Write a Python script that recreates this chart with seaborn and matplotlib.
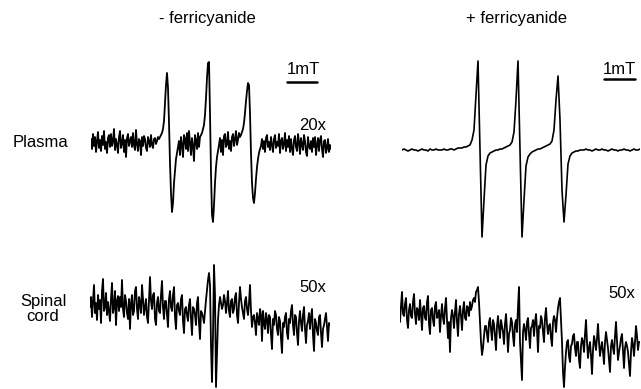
import numpy as np
import matplotlib as mpl
import matplotlib.pyplot as plt
import seaborn as sns

sns.set_style('white')
plt.rcParams['font.family'] = ['Liberation Sans', 'DejaVu Sans']
plt.rcParams['text.color'] = 'black'

# EPR traces, signal in arbitrary units
# noisy traces: 1 px ~ 1/30 mT per point; clean trace: 2 px per point
plasma_minus = [
    4, -6, 9, -3, 6, -9, 2, 11, -5, 3, -8, 7, -2, 12, -6, 1, -10, 5, 8, -4,
    9, -3, 2, 14, -7, 4, -2, -10, 6, 12, -5, 0, 8, -9, 3, -14, 5, 9, -3, 2,
    6, -4, 10, -2, -7, 13, -1, -8, 4, 2, -12, 6, -3, 7, 4, -5, -8, 6, 2, -4,
    8, -2, -5, 4, 5, -1, 2, 6, 4, 6, 8, 10, 14, 22, 40, 58, 70, 55, 20, -20,
    -50, -69, -60, -40, -28, -16, -10, -4, 2, -12, 6, -2, -14, 8, 4, -6, 10, -8, 12, 0,
    -12, 5, -3, -18, 8, 2, -6, 10, -4, 6, 8, 10, 14, 18, 28, 45, 65, 80, 81, 30,
    -30, -72, -79, -62, -40, -24, -14, -8, -2, 5, -9, 3, -12, 7, 9, -4, -1, 11, -6, 2,
    -8, 6, 9, -3, 4, 12, -2, 3, 10, 6, 8, 11, 14, 20, 30, 42, 52, 60, 58, 30,
    -10, -40, -55, -60, -50, -36, -24, -16, -10, -6, -3, 4, -6, 2, -9, 5, 8, -4, 1, -7,
    6, -2, -9, 4, 8, -5, 1, -3, 9, -10, 2, 5, -6, -1, 10, -8, 3, -4, 7, -9,
    4, -6, -12, 3, 7, -4, -8, 9, 1, -11, 5, -2, -7, 8, 2, -9, -13, 6, -3, -6,
    2, -9, 5, -4, 6, -12, -2, 5, -8, 3, 7, -6, -14, 2, 3, -10, -5, 4, -9, -2,
    -6,
]
plasma_plus = [
    0, 1, 0, -1, 0, 1, 0, 0, -1, 0,
    1, 0, 0, -1, 1, 0, 0, 1, 0, 0,
    0, 1, 0, 0, 1, 1, 0, 1, 2, 2,
    2, 3, 3, 4, 5, 10, 20, 55, 89, 0,
    -87, -50, -15, -6, -3, -2, -1, 0, 0, 1,
    1, 2, 3, 4, 5, 8, 18, 50, 89, 0,
    -87, -50, -16, -7, -4, -2, -1, 0, 1, 1,
    2, 3, 4, 5, 6, 9, 20, 50, 74, 30,
    -40, -72, -45, -14, -6, -3, -2, -1, -1, 0,
    0, 0, 1, 0, 0, -1, 0, 1, 0, 0,
    1, 0, 0, -1, 0, 1, 0, 0, -1, 0,
    0, 1, 0, 0, -1, 0, 1, 0, 0, 1,
]
spinal_minus = [
    -2, 8, -12, 4, 20, -8, 2, -15, 10, -4, 5, -18, 14, 26, -6, -2, 12, -10, 3, -6,
    -16, 6, 22, -8, -2, 14, -20, 4, 9, -6, 8, -2, 25, -4, -12, 10, 4, -8, -14, 6,
    -24, 2, 10, -10, -6, 14, 18, -4, -14, 8, 2, -8, 20, 6, -10, -2, 6, -12, -18, 4,
    28, 4, -4, 10, 12, -14, -20, 2, 8, -6, -8, 10, 24, -2, -14, 4, 4, -10, -22, 6,
    14, -2, -6, 10, 18, -12, -24, 0, 2, -6, -10, 6, 10, -16, -28, -4, -2, -10, -16, 0,
    6, -14, -30, -2, -4, -10, -20, 2, 8, -18, -34, -6, -8, -12, -18, -6, 5, 15, 25, 32,
    20, -40, -77, -30, 40, 10, -82, -50, -15, 0, 8, 2, -4, 0, 10, 4, -8, 2, 14, -6,
    -12, 4, 6, -8, -4, 8, 12, -10, -18, 2, 18, 6, -2, -8, -14, 4, 8, -4, -10, 2,
    20, -6, -22, -12, -10, -18, -30, -8, -14, -20, -4, -10, -36, -6, -18, -24, -8, -14, -28, -10,
    -12, -30, -44, -14, -20, -6, -10, -24, -30, -12, -16, -34, -48, -18, -22, -12, -8, -28, -34, -14,
    -18, -6, 0, -20, -30, -10, -12, -28, -40, -16, -6, -18, -26, -10, -2, -24, -38, -20, -16, -8,
    -24, -12, -4, -30, -46, -14, -18, -26, -30, -12, -10, -28, -42, -24, -20, -14, -8, -22, -36, -18,
    -20,
]
spinal_plus = [
    -10, 6, 20, -2, -4, 8, 14, -8, -16, 2, 8, -4, -6, 10, 18, -2, -12, 4, 2, -8,
    12, -2, -18, 4, 6, -6, -8, 10, 16, -12, -22, 2, 4, -8, -14, 6, 10, -6, -4, 2,
    -20, -4, 8, -6, -12, 4, 14, -8, -26, -10, -40, -6, 2, -4, -16, 0, 12, -10, -24, -2,
    6, -4, -18, 2, 10, -6, -8, 6, 4, -4, 10, 2, 6, 12, 14, 10, 20, 22, 25, 10,
    -10, -30, -43, -36, -24, -14, -14, -22, -30, -10, -6, -18, -28, -8, -12, -24, -38, -14, -4, -16,
    -26, -8, -14, -20, -32, -12, -2, -18, -40, -22, -18, -6, -10, -24, -34, -12, -8, -20, 5, 25,
    -30, -50, -68, -20, -12, -18, -28, -10, -6, -22, -36, -16, -14, -8, -24, -10, -2, -18, -40, -14,
    -16, -4, -8, -20, -30, -6, 4, -12, -22, -14, -12, -26, -34, -10, -4, -8, -20, -6, 4, 10,
    14, -8, -30, -60, -75, -55, -40, -30, -28, -44, -50, -34, -32, -24, -22, -36, -44, -30, -30, -48,
    -56, -34, -26, -30, -40, -22, -8, -30, -46, -36, -30, -44, -62, -38, -24, -30, -38, -26, -12, -30,
    -44, -36, -30, -40, -52, -30, -20, -28, -36, -48, -60, -34, -28, -36, -42, -24, -10, -30, -48, -40,
    -34, -26, -22, -40, -56, -36, -30, -34, -40, -52, -64, -40, -26, -32, -44, -30, -14, -24, -38, -30,
    -30,
]

columns = ['- ferricyanide', '+ ferricyanide']
rows = ['Plasma', 'Spinal\ncord']
gains = ['20x', '50x']

W, H = 641, 389

fig = plt.figure(figsize=(W / 100, H / 100), dpi=100)


def trace_axes(x0, x1, yb, vals, step, lw=1.3):
    # full-height transparent axes; x spans first..last point, baseline at pixel row yb
    ax = fig.add_axes([x0 / W, 0, (x1 - x0) / W, 1])
    field = np.arange(len(vals)) * step
    sns.lineplot(x=field, y=vals, ax=ax, color='black', lw=lw)
    ax.set_xlim(0, field[-1])
    ax.set_ylim(yb - H, yb)
    ax.set_axis_off()
    ax.patch.set_alpha(0)
    return ax


ax_a = trace_axes(91, 331, 143, plasma_minus, 1 / 30)
ax_b = trace_axes(402, 640, 150, plasma_plus, 1 / 15, lw=1.2)
ax_c = trace_axes(90, 330, 305, spinal_minus, 1 / 30)
ax_d = trace_axes(400, 640, 312, spinal_plus, 1 / 30)

# 1 mT scale bars
ax_a.plot([6.53, 7.53], [61, 61], color='black', lw=1.8, clip_on=False)
ax_b.plot([6.73, 7.76], [71, 71], color='black', lw=1.8, clip_on=False)


def ftext(x, y, s, **kw):
    fig.text(x / W, 1 - y / H, s, ha='center', va='center', fontsize=12, **kw)


ftext(207, 19, columns[0])
ftext(516, 19, columns[1])
ftext(40, 142, rows[0])
ftext(43, 309, rows[1], linespacing=1.05)
ftext(303, 69, '1mT')
ftext(619, 69, '1mT')
ftext(313, 125, gains[0])
ftext(313, 288, gains[1])
ftext(622, 293, gains[1])

fig.savefig('out.png', dpi=100)
